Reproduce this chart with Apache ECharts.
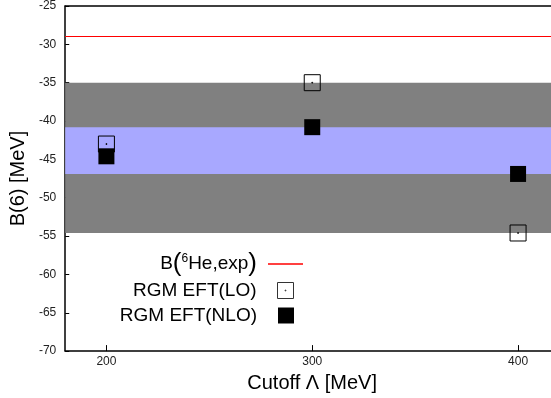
<!DOCTYPE html>
<html>
<head>
<meta charset="utf-8">
<title>B(6) vs cutoff</title>
<script src="https://cdn.jsdelivr.net/npm/echarts@6/dist/echarts.min.js"></script>
<style>
  html, body { margin: 0; padding: 0; background: #fff; }
  #chart { width: 551px; height: 398px; }
</style>
</head>
<body>
<div id="chart"></div>
<script>
// Cutoff values (MeV) and the computed binding energies B(6) (MeV)
const cutoff = [200, 300, 400];
const loB = [-43.0, -35.0, -54.6];
const nloB = [-44.6, -40.8, -46.9];
// Experimental value of B(6He)
const expB = -29.0;
// Spread of the LO and NLO results
const loBand = [-54.6, -35.0];
const nloBand = [-46.9, -40.8];
// Axis ticks
const xTicks = [200, 300, 400];
const xRange = [180, 416];
const yRange = [-70, -25];
const yStep = 5;

const FONT = 'Liberation Sans, Arial, sans-serif';

// Open square with a centre dot
const boxDot = 'path://M0,0H16V16H0Z M7.6,7.6H8.4V8.4H7.6Z';

const richText = {
  t: { fontFamily: FONT, fontSize: 19, lineHeight: 22, color: '#000' },
  e: { fontFamily: FONT, fontSize: 19, lineHeight: 22, color: '#000', padding: [0, 16, 0, 0] },
  p: { fontFamily: FONT, fontSize: 26, lineHeight: 22, color: '#000' },
  pe: { fontFamily: FONT, fontSize: 26, lineHeight: 22, color: '#000', padding: [0, 6, 0, 0] },
  s: { fontFamily: FONT, fontSize: 12, lineHeight: 12, color: '#000', verticalAlign: 'top' }
};

const legendBase = {
  orient: 'vertical',
  align: 'right',
  padding: 0,
  selectedMode: false,
  textStyle: { fontFamily: FONT, fontSize: 19, color: '#000', rich: richText }
};

const chart = echarts.init(document.getElementById('chart'), null, { renderer: 'canvas' });

chart.setOption({
  animation: false,
  backgroundColor: '#fff',
  grid: { left: 64, right: 0, top: 5, bottom: 46 },
  xAxis: [
    {
      type: 'value',
      min: xRange[0],
      max: xRange[1],
      name: 'Cutoff \u039b [MeV]',
      nameLocation: 'middle',
      nameGap: 21,
      nameTextStyle: { fontFamily: FONT, fontSize: 20, color: '#000', padding: [0, 0, 0, 8] },
      axisLine: { show: true, lineStyle: { color: '#000', width: 1.5 } },
      axisTick: { show: true, inside: true, length: 6, customValues: xTicks, lineStyle: { color: '#000' } },
      axisLabel: { show: true, customValues: xTicks, margin: 5, fontFamily: FONT, fontSize: 12, color: '#222' },
      splitLine: { show: false }
    },
    {
      type: 'value',
      position: 'top',
      min: xRange[0],
      max: xRange[1],
      axisLine: { show: true, onZero: false, lineStyle: { color: '#000', width: 1.5 } },
      axisTick: { show: false },
      axisLabel: { show: false },
      splitLine: { show: false }
    }
  ],
  yAxis: {
    type: 'value',
    min: yRange[0],
    max: yRange[1],
    interval: yStep,
    name: 'B(6) [MeV]',
    nameLocation: 'middle',
    nameGap: 31,
    nameTextStyle: { fontFamily: FONT, fontSize: 20, color: '#000' },
    axisLine: { show: true, lineStyle: { color: '#000', width: 1.5 } },
    axisTick: { show: true, inside: true, length: 4, lineStyle: { color: '#000' } },
    axisLabel: { margin: 9, fontFamily: FONT, fontSize: 12, color: '#222' },
    splitLine: { show: false }
  },
  legend: [
    Object.assign({}, legendBase, {
      top: 251,
      right: 248,
      itemWidth: 35,
      itemHeight: 1.5,
      data: [{ name: 'exp', icon: 'rect' }],
      formatter: () => '{t|B}{p|(}{s|6}{t|He,exp}{pe|)}'
    }),
    Object.assign({}, legendBase, {
      top: 281,
      right: 257,
      itemWidth: 16,
      itemHeight: 16,
      itemStyle: { color: 'rgba(0,0,0,0)', borderColor: '#333', borderWidth: 1 },
      data: [{ name: 'RGM EFT(LO)', icon: boxDot }],
      formatter: (n) => '{e|' + n + '}'
    }),
    Object.assign({}, legendBase, {
      top: 306,
      right: 257,
      itemWidth: 16,
      itemHeight: 16,
      data: [{ name: 'RGM EFT(NLO)', icon: 'rect' }],
      formatter: (n) => '{e|' + n + '}'
    })
  ],
  series: [
    {
      name: 'bands',
      type: 'line',
      data: [],
      silent: true,
      z: 1,
      markArea: {
        silent: true,
        data: [
          [
            { yAxis: loBand[1], itemStyle: { color: '#808080', opacity: 1 } },
            { yAxis: loBand[0] }
          ],
          [
            { yAxis: nloBand[1], itemStyle: { color: '#a8a8ff', opacity: 1 } },
            { yAxis: nloBand[0] }
          ]
        ]
      }
    },
    {
      name: 'exp',
      type: 'line',
      data: [],
      symbol: 'none',
      color: '#ff0000',
      itemStyle: { color: '#ff0000' },
      lineStyle: { color: '#ff0000', width: 1 },
      z: 2,
      markLine: {
        silent: true,
        symbol: ['none', 'none'],
        label: { show: false },
        lineStyle: { color: '#ff0000', width: 1, type: 'solid' },
        data: [{ yAxis: expB }]
      }
    },
    {
      name: 'RGM EFT(LO)',
      type: 'scatter',
      symbol: boxDot,
      symbolSize: 16,
      z: 5,
      itemStyle: { color: 'rgba(0,0,0,0)', borderColor: '#000', borderWidth: 1, opacity: 1 },
      data: cutoff.map((c, i) => [c, loB[i]])
    },
    {
      name: 'RGM EFT(NLO)',
      type: 'scatter',
      symbol: 'rect',
      symbolSize: 16,
      z: 6,
      itemStyle: { color: '#000', opacity: 1 },
      data: cutoff.map((c, i) => [c, nloB[i]])
    }
  ]
});
</script>
</body>
</html>
